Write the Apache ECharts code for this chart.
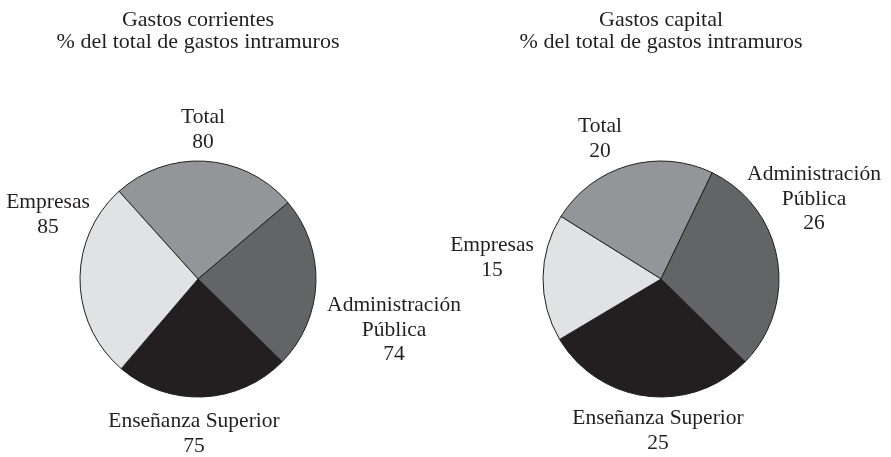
<!DOCTYPE html>
<html>
<head>
<meta charset="utf-8">
<style>
  html, body { margin: 0; padding: 0; background: #fff; }
  #chart { width: 891px; height: 457px; }
</style>
<script src="https://cdn.jsdelivr.net/npm/echarts@6/dist/echarts.min.js"></script>
</head>
<body>
<div id="chart"></div>
<script>
// categorias (orden horario empezando por Total)
const categories = ['Total', 'Administración\nPública', 'Enseñanza Superior', 'Empresas']
const corrientes = [80, 74, 75, 85]
const capital = [20, 26, 25, 15]
const titles = [
  'Gastos corrientes\n% del total de gastos intramuros',
  'Gastos capital\n% del total de gastos intramuros'
]

const sliceColors = ['#939598', '#636466', '#231f20', '#e1e2e3']
const ink = '#231f20'
const font = 'Liberation Serif'

// layout
const pieCenters = [[198, 279], [661, 279]]
const pieRadius = 118
const startAngles = [132, 148]
// label block centre, relative to pie centre
const labelSpots = [
  [[5, -149], [196, 51], [-4, 155], [-150, -64]],
  [[-61, -140], [153, -80], [-3, 152], [-169, -21]]
]

let chart = echarts.init(document.getElementById('chart'), null, {renderer: 'canvas'})

function makePie(idx, values) {
  return {
    type: 'pie',
    center: pieCenters[idx],
    radius: [0, pieRadius],
    startAngle: startAngles[idx],
    clockwise: true,
    avoidLabelOverlap: false,
    silent: true,
    itemStyle: {
      borderColor: ink,
      borderWidth: 1
    },
    label: {
      show: true,
      position: 'outside',
      formatter: '{b}\n{c}',
      fontFamily: font,
      fontSize: 21.5,
      lineHeight: 24.5,
      color: ink
    },
    labelLine: {show: false},
    labelLayout: function (p) {
      const s = labelSpots[p.seriesIndex][p.dataIndex]
      const c = pieCenters[p.seriesIndex]
      return {x: c[0] + s[0], y: c[1] + s[1], align: 'center', verticalAlign: 'middle'}
    },
    data: categories.map((name, i) => ({
      name: name,
      value: values[i],
      itemStyle: {color: sliceColors[i]}
    }))
  }
}

const option = {
  animation: false,
  backgroundColor: '#fff',
  title: titles.map((t, i) => ({
    text: t,
    left: pieCenters[i][0] - 5,
    top: 4,
    textAlign: 'center',
    textStyle: {
      fontFamily: font,
      fontSize: 22,
      fontWeight: 'normal',
      lineHeight: 22,
      color: ink
    }
  })),
  series: [makePie(0, corrientes), makePie(1, capital)]
}

chart.setOption(option)
</script>
</body>
</html>
